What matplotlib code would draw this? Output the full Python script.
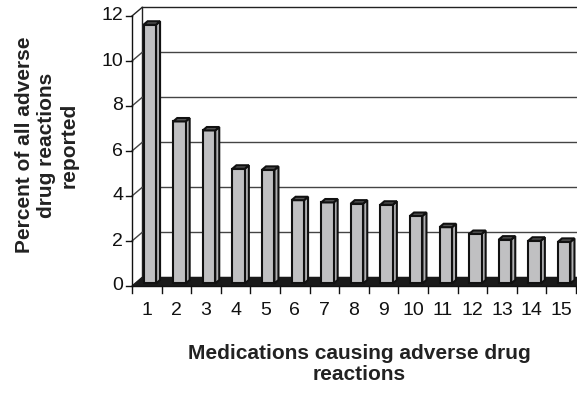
import numpy as np
import matplotlib.pyplot as plt
from matplotlib.patches import Polygon

plt.rcParams['font.family'] = ['Liberation Sans', 'DejaVu Sans']

# share of reported adverse drug reactions per medication
meds = np.arange(1, 16)
pct = [11.5, 7.2, 6.8, 5.1, 5.05, 3.7, 3.6, 3.55, 3.5, 3.0, 2.5, 2.2, 1.95, 1.9, 1.85]
yticks = [0, 2, 4, 6, 8, 10, 12]

# 3d look: depth of the walls in data units
DX, DY = 0.34, 0.38
w = 0.42

fig = plt.figure(figsize=(5.77, 3.96), dpi=100)
ax = fig.add_axes([132/577, 110/396, 444/577, 270/396])
ax.set_xlim(0.5, 15.5)
ax.set_ylim(0, 12)
ax.axis('off')

x0, x1 = 0.5, 15.5
# back wall + gridlines
ax.plot([x0 + DX, x0 + DX], [DY, 12 + DY], color='#222', lw=1, clip_on=False)
ax.plot([x0 + DX, x1 + DX + 1], [12 + DY, 12 + DY], color='#222', lw=1, clip_on=False)
for v in yticks[1:-1]:
    ax.plot([x0, x0 + DX], [v, v + DY], color='#444', lw=1, clip_on=False)
    ax.plot([x0 + DX, x1 + DX + 1], [v + DY, v + DY], color='#444', lw=1, clip_on=False)
ax.plot([x0, x0 + DX], [12, 12 + DY], color='#222', lw=1, clip_on=False)

# floor
ax.add_patch(Polygon([(x0, 0), (x1 + 1, 0), (x1 + 1 + DX, DY), (x0 + DX, DY)],
                     closed=True, fc='#1a1a1a', ec='#1a1a1a', clip_on=False, zorder=2))

# bars: front face via ax.bar, then side and top faces
ox, oy = 0.3 * DX, 0.3 * DY
bd, bh = 0.4 * DX, 0.4 * DY
bars = ax.bar(meds + ox, pct, width=w, bottom=oy, color='#c0c0c2',
              edgecolor='#111', linewidth=1.5, zorder=4, clip_on=False)
for b in bars:
    xl, xr = b.get_x(), b.get_x() + b.get_width()
    yb, yt = b.get_y(), b.get_y() + b.get_height()
    side = Polygon([(xr, yb), (xr + bd, yb + bh), (xr + bd, yt + bh), (xr, yt)],
                   closed=True, fc='#b0b0b2', ec='#111', lw=1.5, zorder=3, clip_on=False)
    top = Polygon([(xl, yt), (xr, yt), (xr + bd, yt + bh), (xl + bd, yt + bh)],
                  closed=True, fc='#555', ec='#111', lw=1.5, zorder=5, clip_on=False)
    ax.add_patch(side)
    ax.add_patch(top)

# front axes, ticks and labels
ax.plot([x0, x0], [0, 12], color='#111', lw=1, clip_on=False, zorder=6)
ax.plot([x0, x1 + 1], [0, 0], color='#111', lw=1, clip_on=False, zorder=6)
for v in yticks:
    ax.plot([x0 - 0.2, x0], [v, v], color='#111', lw=1, clip_on=False)
    ax.text(x0 - 0.3, v, str(v), ha='right', va='center', fontsize=14, color='#111')
for k in range(16):
    ax.plot([x0 + k, x0 + k], [0, -0.3], color='#111', lw=1, clip_on=False)
for m in meds:
    ax.text(m, -1.1, str(m), ha='center', va='center', fontsize=14, color='#111')

fig.text(359/577, 1 - 364/396, 'Medications causing adverse drug\nreactions',
         ha='center', va='center', fontsize=15, fontweight='bold', color='#222',
         linespacing=1.1)
fig.text(47/577, 1 - 145/396, 'Percent of all adverse\ndrug reactions\nreported',
         ha='center', va='center', rotation=90, fontsize=15, fontweight='bold',
         color='#222', linespacing=1.2)

fig.savefig('out.png', dpi=100)
